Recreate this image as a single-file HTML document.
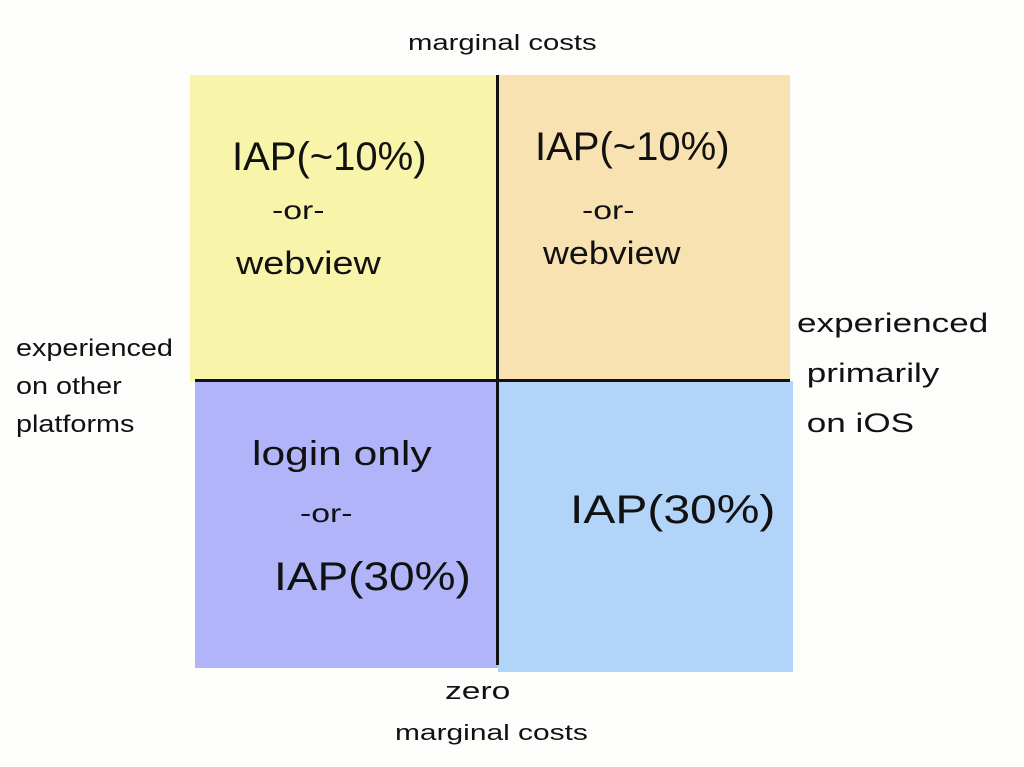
<!DOCTYPE html>
<html><head><style>
body{margin:0;width:1024px;height:767px;background:#fdfdfb;position:relative;overflow:hidden;font-family:"Liberation Sans",sans-serif;color:#111}
.q{position:absolute}
.t{position:absolute;white-space:nowrap;font-family:"Liberation Sans",sans-serif;transform-origin:0 0}
</style></head><body>
<div class="q" style="left:190px;top:75px;width:308px;height:306px;background:#f8f4a9"></div>
<div class="q" style="left:498px;top:75px;width:292px;height:306px;background:#f9e2b1"></div>
<div class="q" style="left:195px;top:381px;width:303px;height:287px;background:#b1b4f8"></div>
<div class="q" style="left:498px;top:381px;width:295px;height:291px;background:#b2d4f9"></div>
<div class="q" style="left:496px;top:75px;width:3px;height:590px;background:#111"></div>
<div class="q" style="left:195px;top:379px;width:595px;height:3px;background:#111"></div>

<div class="t" style="left:408px;top:30px;font-size:22px;transform:scaleX(1.33)">marginal costs</div>
<div class="t" style="left:445px;top:678px;font-size:24px;transform:scaleX(1.4)">zero</div>
<div class="t" style="left:395px;top:720px;font-size:22px;transform:scaleX(1.36)">marginal costs</div>
<div class="t" style="left:16px;top:330px;font-size:24px;line-height:38px;transform:scaleX(1.2)">experienced<br>on other<br>platforms</div>
<div class="t" style="left:797px;top:298px;font-size:27px;line-height:50px;transform:scaleX(1.3)">experienced<br>&nbsp;primarily<br>&nbsp;on iOS</div>

<div class="t" style="left:232px;top:135px;font-size:40px">IAP(~10%)</div>
<div class="t" style="left:272px;top:195px;font-size:26px;transform:scaleX(1.3)">-or-</div>
<div class="t" style="left:236px;top:245px;font-size:32px;transform:scaleX(1.18)">webview</div>

<div class="t" style="left:535px;top:125px;font-size:40px">IAP(~10%)</div>
<div class="t" style="left:582px;top:195px;font-size:26px;transform:scaleX(1.3)">-or-</div>
<div class="t" style="left:543px;top:235px;font-size:32px;transform:scaleX(1.12)">webview</div>

<div class="t" style="left:252px;top:435px;font-size:34px;transform:scaleX(1.25)">login only</div>
<div class="t" style="left:300px;top:498px;font-size:26px;transform:scaleX(1.3)">-or-</div>
<div class="t" style="left:274px;top:555px;font-size:40px;transform:scaleX(1.15)">IAP(30%)</div>

<div class="t" style="left:570px;top:488px;font-size:40px;transform:scaleX(1.2)">IAP(30%)</div>
</body></html>
